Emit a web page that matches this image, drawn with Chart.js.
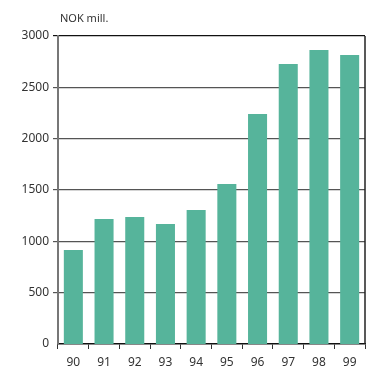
<!DOCTYPE html>
<html>
<head>
<meta charset="utf-8">
<script src="https://cdn.jsdelivr.net/npm/chart.js@4.4.1/dist/chart.umd.min.js"></script>
<style>
  html, body { margin: 0; padding: 0; background: #fff; }
  #wrap { width: 367px; height: 367px; position: relative; }
</style>
</head>
<body>
<div id="wrap"><canvas id="chart" width="367" height="367"></canvas></div>
<script>
// Years (two-digit) and amounts in NOK million
const years = ["90", "91", "92", "93", "94", "95", "96", "97", "98", "99"];
const amounts = [915, 1217, 1237, 1169, 1305, 1558, 2240, 2727, 2864, 2815];
const yTicks = [0, 500, 1000, 1500, 2000, 2500, 3000];
const unitLabel = "NOK mill.";

const barColor = "#56b49b";
const fontFamily = "'Noto Sans', 'DejaVu Sans', sans-serif";

// unit text above the plot plus the right-hand frame line
const framePlugin = {
  id: "frame",
  afterDraw(chart) {
    const { ctx, chartArea } = chart;
    ctx.save();
    ctx.strokeStyle = "#222";
    ctx.lineWidth = 1.5;
    ctx.beginPath();
    ctx.moveTo(chartArea.right, chartArea.top);
    ctx.lineTo(chartArea.right, chartArea.bottom);
    ctx.stroke();
    ctx.fillStyle = "#333";
    ctx.font = "11px " + fontFamily;
    ctx.textBaseline = "alphabetic";
    ctx.fillText(unitLabel, chartArea.left + 2, chartArea.top - 14);
    ctx.restore();
  }
};

new Chart(document.getElementById("chart"), {
  type: "bar",
  data: {
    labels: years,
    datasets: [{
      data: amounts,
      backgroundColor: barColor,
      categoryPercentage: 0.62,
      barPercentage: 1.0
    }]
  },
  options: {
    responsive: false,
    animation: false,
    layout: { padding: { top: 36, right: 2, left: 0, bottom: 0 } },
    plugins: {
      legend: { display: false },
      tooltip: { enabled: false }
    },
    scales: {
      x: {
        grid: {
          display: true,
          drawOnChartArea: false,
          drawTicks: true,
          tickLength: 5,
          color: "#333",
          offset: true
        },
        border: { color: "#111", width: 1.5 },
        ticks: {
          color: "#333",
          font: { family: fontFamily, size: 12 },
          padding: 6
        },
        afterFit(scale) { scale.height = 23; }
      },
      y: {
        min: 0,
        max: 3000,
        afterBuildTicks(scale) {
          scale.ticks = yTicks.map(v => ({ value: v }));
        },
        grid: {
          color: (c) => (c.tick && c.tick.value === 3000 ? "#111" : "#555"),
          lineWidth: (c) => (c.tick && c.tick.value === 0 ? 0 : 1.2),
          tickLength: 5
        },
        border: { color: "#777", width: 2 },
        ticks: {
          color: "#333",
          font: { family: fontFamily, size: 12 },
          padding: 4,
          callback: (v) => String(v)
        },
        afterFit(scale) { scale.width = 58; }
      }
    }
  },
  plugins: [framePlugin]
});
</script>
</body>
</html>
